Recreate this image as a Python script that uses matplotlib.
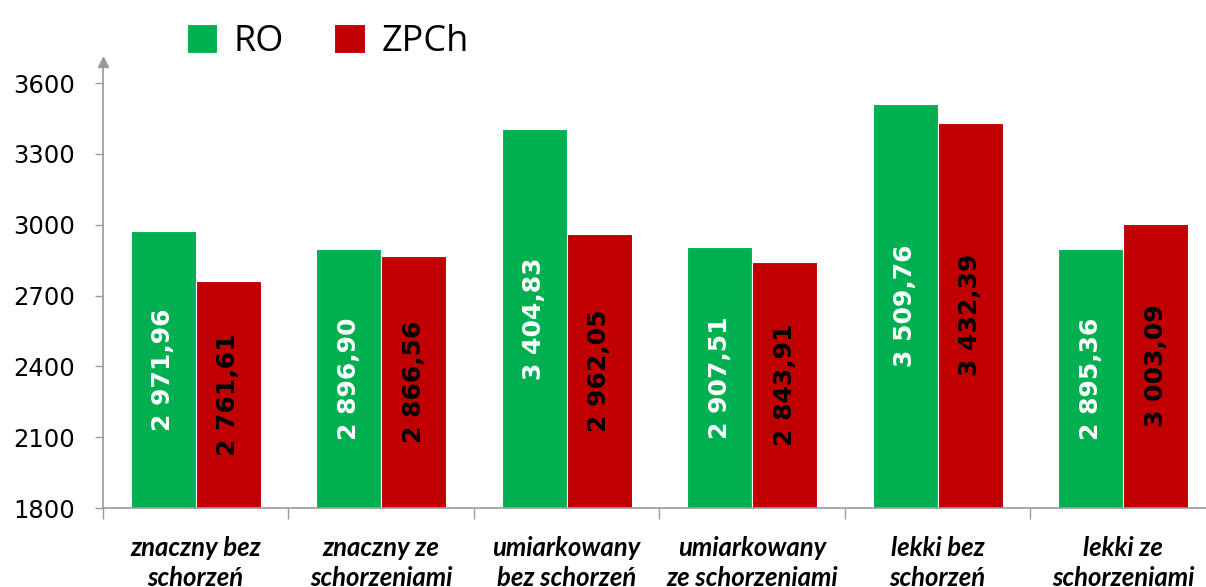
import matplotlib.pyplot as plt
import numpy as np

categories = ['znaczny bez\nschorzeń', 'znaczny ze\nschorzeniami', 'umiarkowany\nbez schorzeń',
              'umiarkowany\nze schorzeniami', 'lekki bez\nschorzeń', 'lekki ze\nschorzeniami']
ro = [2971.96, 2896.90, 3404.83, 2907.51, 3509.76, 2895.36]
zpch = [2761.61, 2866.56, 2962.05, 2843.91, 3432.39, 3003.09]
yticks = [1800, 2100, 2400, 2700, 3000, 3300, 3600]

GREEN = '#00B050'
RED = '#C00000'
AXIS = '#999999'


def fmt(v):
	s = '{:,.2f}'.format(v)
	return s.replace(',', ' ').replace('.', ',')


plt.rcParams['font.family'] = ['Open Sans', 'DejaVu Sans']

fig = plt.figure(figsize=(12.06, 5.87), dpi=100)
ax = fig.add_axes([103/1206, 79/587, 1113/1206, 446/587])

x = np.arange(len(categories))
w = 0.35
b1 = ax.bar(x - w/2, np.array(ro) - 1800, w, bottom=1800, color=GREEN, edgecolor='white', linewidth=0.8, label='RO')
b2 = ax.bar(x + w/2, np.array(zpch) - 1800, w, bottom=1800, color=RED, edgecolor='white', linewidth=0.8, label='ZPCh')

for xi, v in zip(x, ro):
	ax.text(xi - w/2, (1800 + v) / 2, fmt(v), rotation=90, ha='center', va='center',
			color='white', fontsize=18, fontweight='semibold', family='DejaVu Sans')
for xi, v in zip(x, zpch):
	ax.text(xi + w/2, (1800 + v) / 2, fmt(v), rotation=90, ha='center', va='center',
			color='black', fontsize=18, fontweight='semibold', family='DejaVu Sans')

ax.set_xlim(-0.5, len(categories) - 0.5)
ax.set_ylim(1800, 3689)
ax.set_yticks(yticks)
ax.set_yticklabels([str(t) for t in yticks], fontsize=17.5, family='DejaVu Sans')
ax.set_xticks(x)
ax.set_xticklabels(categories, fontsize=18.5, fontweight='bold', style='italic',
				   family=['Lato', 'DejaVu Sans'], linespacing=1.3)
ax.set_xticks(np.arange(len(categories) + 1) - 0.5, minor=True)
ax.tick_params(axis='x', which='major', length=0, pad=20)
ax.tick_params(axis='x', which='minor', length=8, color=AXIS, width=1)
ax.tick_params(axis='y', length=6, color=AXIS, width=1, pad=14)

for s in ['top', 'right']:
	ax.spines[s].set_visible(False)
for s in ['left', 'bottom']:
	ax.spines[s].set_color(AXIS)
	ax.spines[s].set_linewidth(1.2)
ax.plot([-0.5], [3689], marker='^', color=AXIS, markersize=7, clip_on=False)

leg = fig.legend(handles=[b1, b2], loc='upper left', bbox_to_anchor=(154/1206, 1.015), ncol=2,
				 frameon=False, fontsize=26, handlelength=0.85, handleheight=0.85,
				 columnspacing=1.4, handletextpad=0.45)

plt.savefig('out.png', dpi=100)
